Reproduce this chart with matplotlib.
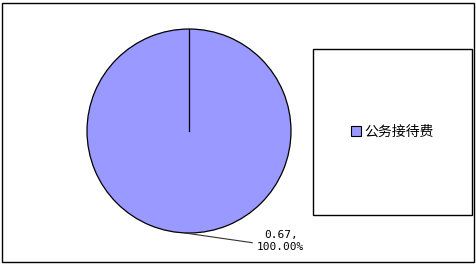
import matplotlib
matplotlib.use("Agg")
import matplotlib.pyplot as plt
from matplotlib.patches import Rectangle, Patch

plt.rcParams['font.family'] = ['Noto Sans CJK SC', 'DejaVu Sans']

categories = ["公务接待费"]
values = [0.67]
percents = ["100.00%"]
color = "#9999FF"

W, H = 477, 266
fig = plt.figure(figsize=(W / 100, H / 100), dpi=100)
fig.patch.set_facecolor("white")

ax = fig.add_axes([0, 0, 1, 1])
R = 102.0
cx, cy = 189.0, H - 131.0

wedges, _ = ax.pie(values, colors=[color], startangle=90, counterclock=False,
                   radius=1.0, center=(0, 0), frame=True,
                   wedgeprops=dict(edgecolor="black", linewidth=0.9))
ax.set_xlim(-cx / R, (W - cx) / R)
ax.set_ylim(-cy / R, (H - cy) / R)
ax.set_aspect("auto")
ax.axis("off")
# radial boundary line of the single slice
ax.plot([0, 0], [0, 1], color="black", lw=0.9)

# leader line and data label
ax.plot([-0.04, 0.62], [-1.0, -1.095], color="#333333", lw=0.8)
ax.text(0.90, -1.08, f"{values[0]:.2f},\n{percents[0]}",
        ha="center", va="center", fontsize=8, linespacing=1.3,
        family=["DejaVu Sans Mono"])

# outer border
fig.patches.append(Rectangle((2 / W, (H - 262) / H), 472 / W, 259 / H,
                             transform=fig.transFigure, fill=False,
                             edgecolor="black", lw=1.0))
# legend frame
fig.patches.append(Rectangle((313 / W, (H - 215) / H), 159 / W, 166 / H,
                             transform=fig.transFigure, fill=False,
                             edgecolor="black", lw=1.0))
handles = [Patch(facecolor=color, edgecolor="black", lw=0.8)]
fig.legend(handles, categories, loc="center",
           bbox_to_anchor=((313 + 159 / 2) / W, (H - 132) / H),
           frameon=False, fontsize=10, handlelength=0.7, handleheight=0.7,
           handletextpad=0.3)

fig.savefig("out.png", dpi=100)
